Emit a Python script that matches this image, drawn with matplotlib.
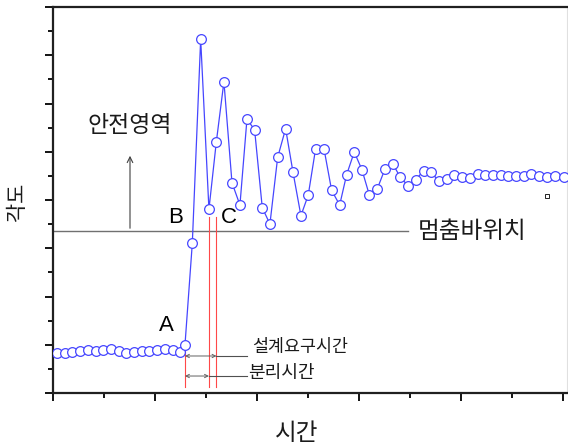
import matplotlib
matplotlib.use('Agg')
from matplotlib import pyplot as plt
from matplotlib.ticker import MultipleLocator

plt.rcParams['font.family'] = ['Noto Sans CJK KR', 'DejaVu Sans']

# time / angle samples
t_vals = [0.039, 0.118, 0.189, 0.265, 0.340, 0.418, 0.493, 0.569, 0.644,
          0.719, 0.794, 0.870, 0.944, 1.023, 1.098, 1.174, 1.245,
          1.294, 1.366, 1.448, 1.529, 1.601, 1.676, 1.755, 1.833, 1.902,
          1.977, 2.052, 2.127, 2.203, 2.281, 2.353, 2.431, 2.503, 2.575,
          2.657, 2.732, 2.811, 2.879, 2.954, 3.029, 3.101, 3.179, 3.255,
          3.333, 3.402, 3.483, 3.556, 3.634, 3.709, 3.784, 3.860, 3.934,
          4.012, 4.088, 4.164, 4.238, 4.314, 4.389, 4.464, 4.539, 4.615,
          4.689, 4.765, 4.840, 4.922, 5.007]
angle_vals = [0.823, 0.836, 0.850, 0.877, 0.891, 0.877, 0.891, 0.905, 0.864,
              0.836, 0.850, 0.864, 0.877, 0.891, 0.905, 0.891, 0.857,
              0.995, 3.103, 7.331, 3.807, 5.196, 6.452, 4.358, 3.896, 5.679,
              5.451, 3.840, 3.503, 4.885, 5.478, 4.580, 3.675, 4.104, 5.063,
              5.063, 4.201, 3.896, 4.524, 4.995, 4.628, 4.110, 4.228, 4.642,
              4.746, 4.483, 4.290, 4.421, 4.607, 4.574, 4.388, 4.435, 4.524,
              4.477, 4.450, 4.539, 4.518, 4.524, 4.512, 4.504, 4.497, 4.497,
              4.533, 4.504, 4.483, 4.491, 4.483]

stop_level = 3.357          # 멈춤바 위치
stop_end = 3.48
safe_arrow_x = 0.755
safe_arrow_top = 4.974

t_A = 1.294                 # release start
t_sep = 1.529               # 분리시간
t_req = 1.603               # 설계요구시간
red_bottom = 0.124
red_top_A = 0.995
red_top = 3.64
y_req = 0.767
y_sep = 0.352
label_line_end = 1.902

stray_pt = (4.846, 4.083)

blue = '#4646ff'
txt = '#1a1a1a'

fig = plt.figure(figsize=(5.68, 4.46), dpi=100)
ax = fig.add_axes([53/568, 53/446, 514/568, 386/446])

ax.plot(t_vals, angle_vals, color=blue, lw=0.9, marker='o', ms=7,
        mfc='white', mec=blue, mew=0.9, zorder=3)
ax.plot([stray_pt[0]], [stray_pt[1]], marker='s', ms=2.5, mfc='white',
        mec='black', mew=0.6, ls='none')

# stop-bar line and safe-zone arrow
ax.plot([0, stop_end], [stop_level, stop_level], color='#707070', lw=1)
ax.annotate('', xy=(safe_arrow_x, safe_arrow_top), xytext=(safe_arrow_x, stop_level),
            arrowprops=dict(arrowstyle='->', color='#404040', lw=0.8,
                            mutation_scale=10))

# red time markers
ax.plot([t_A, t_A], [red_bottom, red_top_A], color='#ff4848', lw=0.8)
ax.plot([t_sep, t_sep], [red_bottom, red_top], color='#ff4848', lw=0.8)
ax.plot([t_req, t_req], [red_bottom, red_top], color='#ff4848', lw=0.8)

# duration arrows
for t_end, yy in [(t_req, y_req), (t_sep, y_sep)]:
    ax.annotate('', xy=(t_end, yy), xytext=(t_A, yy),
                arrowprops=dict(arrowstyle='<->', color='#606060', lw=0.7,
                                mutation_scale=6, shrinkA=0, shrinkB=0))
    ax.plot([t_end, label_line_end], [yy, yy], color='#505050', lw=0.8)

ax.text(0.755, 5.554, '안전영역', fontsize=16.5, ha='center', va='center', color=txt)
ax.text(3.578, 3.337, '멈춤바위치', fontsize=17, ha='left', va='center', color=txt)
ax.text(1.951, 0.953, '설계요구시간', fontsize=12.5, ha='left', va='center', color=txt)
ax.text(1.912, 0.415, '분리시간', fontsize=13, ha='left', va='center', color=txt)
for lab, x, y in [('A', 1.108, 1.389), ('B', 1.206, 3.627), ('C', 1.725, 3.627)]:
    ax.text(x, y, lab, fontsize=16, ha='center', va='center',
            family='Liberation Sans')

ax.set_xlim(0, 5.04)
ax.set_ylim(0, 8)
ax.xaxis.set_major_locator(MultipleLocator(1))
ax.xaxis.set_minor_locator(MultipleLocator(0.5))
ax.yaxis.set_major_locator(MultipleLocator(1))
ax.yaxis.set_minor_locator(MultipleLocator(0.5))
ax.tick_params(which='both', direction='out', labelbottom=False, labelleft=False,
               width=1.3, top=False, right=False)
ax.tick_params(which='major', length=6)
ax.tick_params(which='minor', length=3.5)

for s in ['left', 'bottom', 'top']:
    ax.spines[s].set_linewidth(1.6)
    ax.spines[s].set_color('#202020')
ax.spines['right'].set_color('#e0e0e0')
ax.spines['right'].set_linewidth(0.8)

fig.text(296.5/568, 1 - 433/446, '시간', fontsize=17, ha='center', va='center', color=txt)
fig.text(17/568, 1 - 202/446, '각도', fontsize=15, ha='center', va='center',
         rotation=90, color=txt)

fig.savefig('out.png', dpi=100)
